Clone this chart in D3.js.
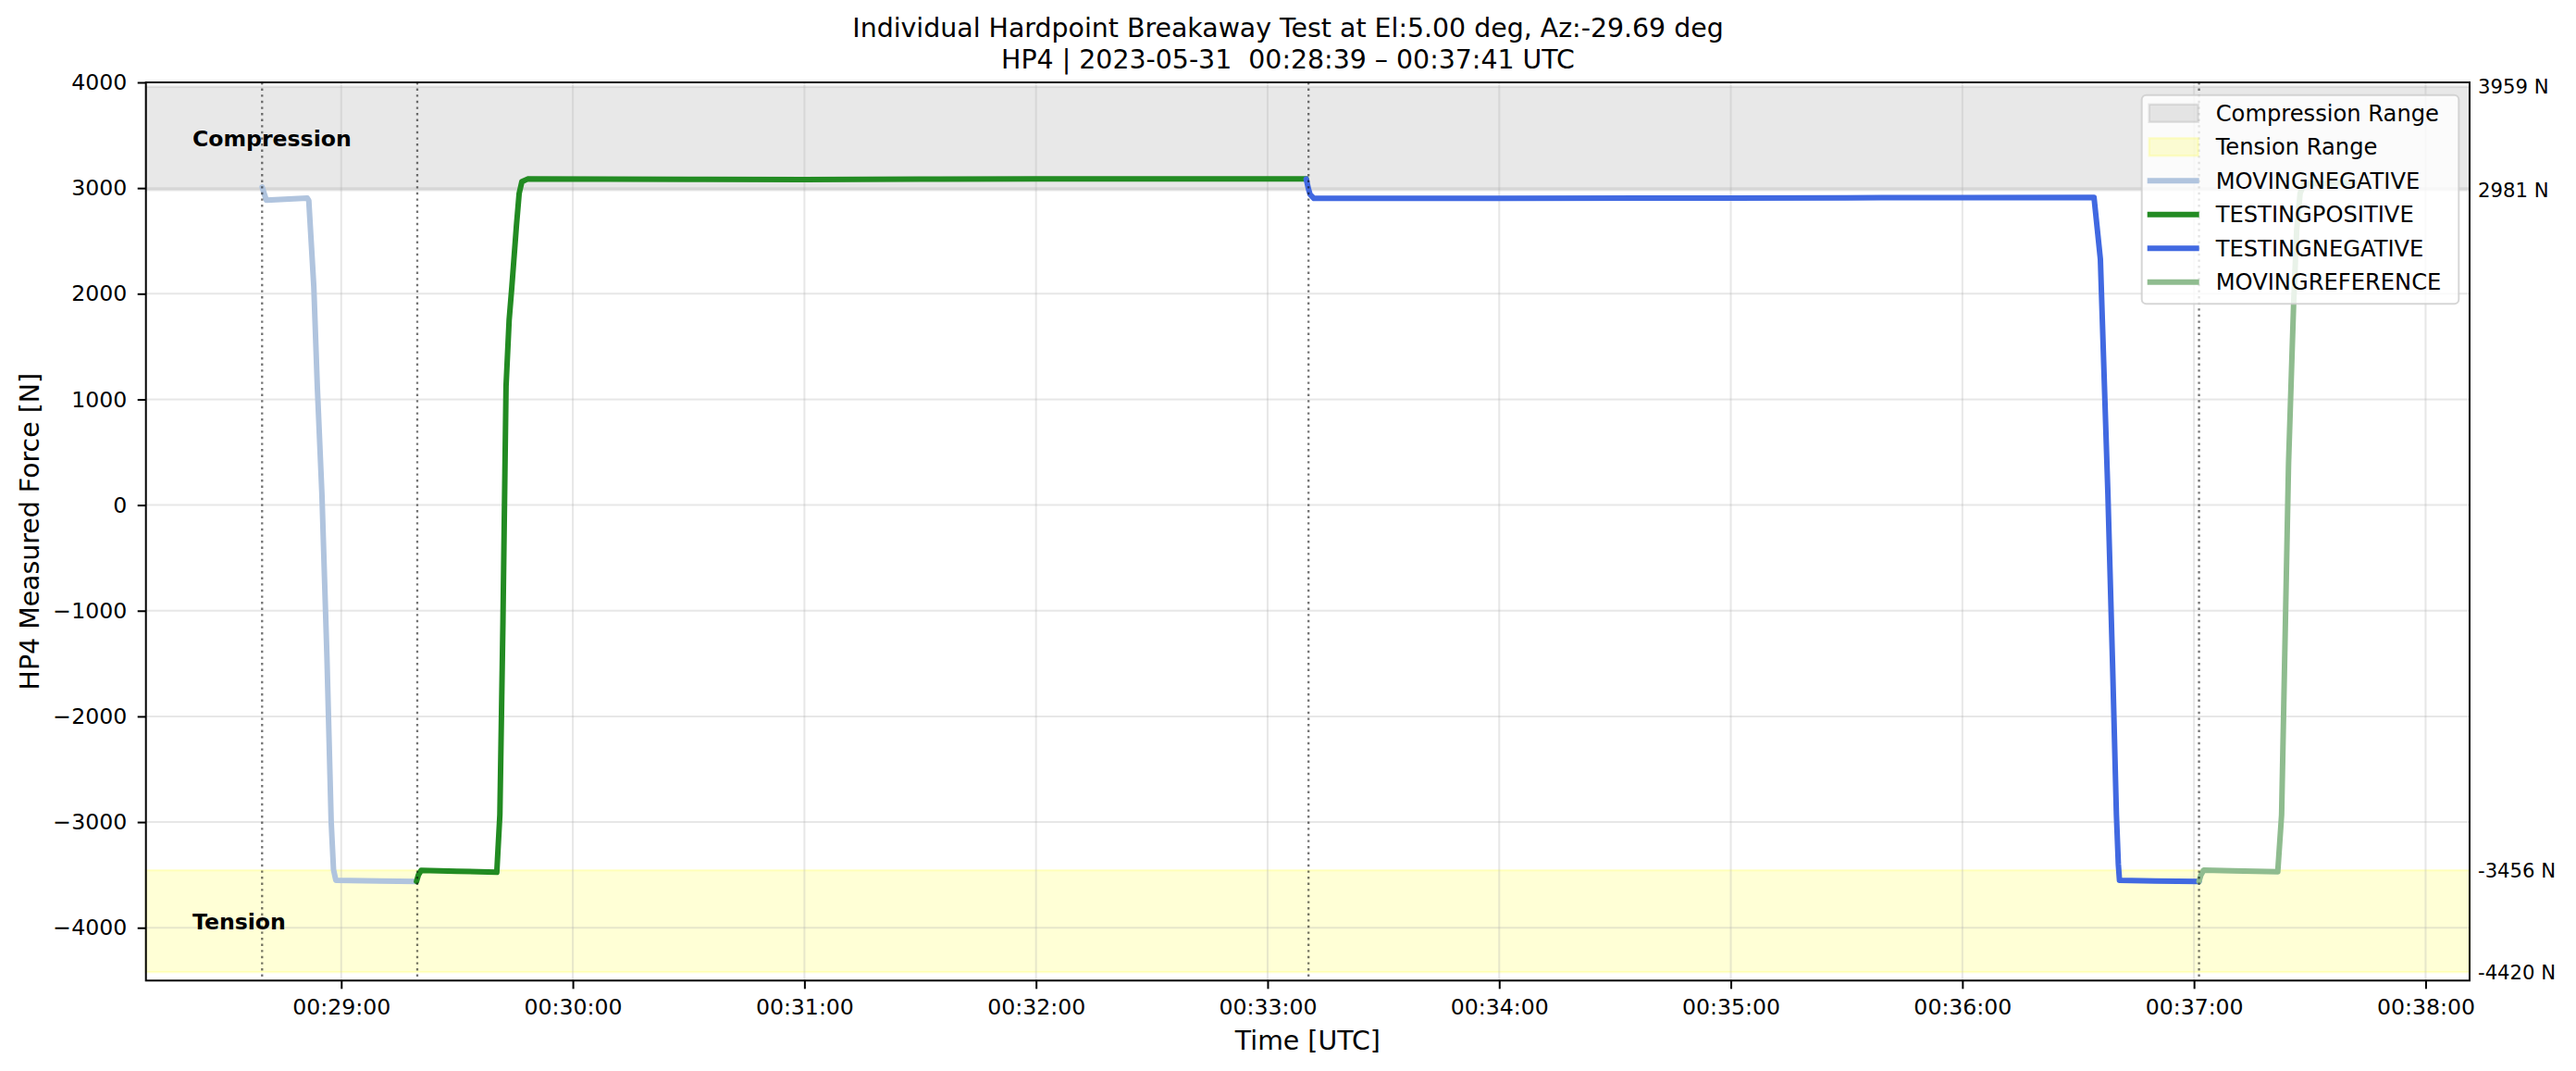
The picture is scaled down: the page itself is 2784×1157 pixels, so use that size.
<!DOCTYPE html>
<html><head><meta charset="utf-8">
<script src="https://cdn.jsdelivr.net/npm/d3@7"></script>
<style>
html,body{margin:0;padding:0;background:#fff;}
svg{display:block;font-family:"DejaVu Sans",sans-serif;}
</style></head><body>
<svg id="chart" width="2784" height="1157"></svg>
<script>
// ---------------- DATA ----------------
const titleLines = ["Individual Hardpoint Breakaway Test at El:5.00 deg, Az:-29.69 deg",
                    "HP4 | 2023-05-31  00:28:39 \u2013 00:37:41 UTC"];
const xLabel = "Time [UTC]";
const yLabel = "HP4 Measured Force [N]";
const xDomainTimes = ["00:28:09.4", "00:38:11.4"];
const yDomainValues = [-4500, 4000];
const xTickTimes = ["00:29:00","00:30:00","00:31:00","00:32:00","00:33:00","00:34:00","00:35:00","00:36:00","00:37:00","00:38:00"];
const yTickValues = [-4000,-3000,-2000,-1000,0,1000,2000,3000,4000];
const compressionRange = [2981, 3959];
const tensionRange = [-4420, -3456];
const rangeLabelValues = [3959, 2981, -3456, -4420];
const regionNames = ["Compression", "Tension"];
const eventTimes = ["00:28:39.5", "00:29:19.7", "00:33:10.6", "00:37:01.3"];

const seriesNames = ["MOVINGNEGATIVE", "TESTINGPOSITIVE", "TESTINGNEGATIVE", "MOVINGREFERENCE"];
const seriesColors = ["#B0C4DE", "#228B22", "#4169E1", "#8FBC8F"];

const movingNegativeTimes = ["00:28:39.5","00:28:40.6","00:28:51.2","00:28:51.6","00:28:52.9","00:28:53.8","00:28:55.0","00:28:56.3","00:28:57.4","00:28:58.0","00:28:58.6","00:29:10.0","00:29:19.5"];
const movingNegativeValues = [3010, 2885, 2905, 2880, 2064, 1125, 100, -1440, -3000, -3450, -3551, -3558, -3562];

const testingPositiveTimes = ["00:29:19.5","00:29:20.0","00:29:20.7","00:29:30.0","00:29:40.3","00:29:41.1","00:29:41.9","00:29:42.7","00:29:43.5","00:29:44.2","00:29:45.4","00:29:46.1","00:29:46.8","00:29:48.3","00:30:30.0","00:31:00.0","00:31:30.0","00:32:00.0","00:32:30.0","00:33:10.0"];
const testingPositiveValues = [-3562, -3500, -3458, -3465, -3475, -2930, -1100, 1125, 1750, 2064, 2648, 2950, 3060, 3086, 3082, 3080, 3084, 3087, 3086, 3086];

const testingNegativeTimes = ["00:33:10.0","00:33:10.6","00:33:11.0","00:33:12.0","00:34:00.0","00:35:00.0","00:35:30.0","00:36:00.0","00:36:34.1","00:36:35.75","00:36:36.8","00:36:37.7","00:36:38.9","00:36:39.9","00:36:40.4","00:36:40.7","00:36:50.0","00:37:01.3"];
const testingNegativeValues = [3086, 2990, 2940, 2902, 2903, 2906, 2908, 2910, 2911, 2327, 1125, 100, -1500, -2930, -3400, -3551, -3558, -3562];

const movingReferenceTimes = ["00:37:01.3","00:37:01.8","00:37:02.5","00:37:10.0","00:37:21.7","00:37:22.7","00:37:24.5","00:37:25.8","00:37:26.6","00:37:27.5","00:37:28.5","00:37:41.5"];
const movingReferenceValues = [-3562, -3500, -3455, -3462, -3470, -2930, 400, 1890, 2600, 2950, 3040, 3050];

const seriesTimes = [movingNegativeTimes, testingPositiveTimes, testingNegativeTimes, movingReferenceTimes];
const seriesValues = [movingNegativeValues, testingPositiveValues, testingNegativeValues, movingReferenceValues];

// ---------------- CHART ----------------
const W = 2784, H = 1157;
const margin = {left: 157.7, top: 89, right: 115, bottom: 97.7};
const pw = W - margin.left - margin.right, ph = H - margin.top - margin.bottom;

const parseT = s => { const p = s.split(":"); return new Date(Date.UTC(2023,4,31,+p[0],+p[1],0) + parseFloat(p[2])*1000); };

const svg = d3.select("#chart");
svg.append("rect").attr("width", W).attr("height", H).attr("fill", "#fff");
const g = svg.append("g").attr("transform", `translate(${margin.left},${margin.top})`);

const x = d3.scaleUtc().domain(xDomainTimes.map(parseT)).range([0, pw]);
const y = d3.scaleLinear().domain(yDomainValues).range([ph, 0]);

const TICK_FS = 23.6, LABEL_FS = 28.4, LW = 6;

// range shading
const regions = [
  {range: compressionRange, color: "#808080", op: 0.18, name: regionNames[0]},
  {range: tensionRange, color: "#ffff00", op: 0.16, name: regionNames[1]}
];
regions.forEach(r => {
  g.append("rect")
    .attr("x", 0).attr("width", pw)
    .attr("y", y(r.range[1])).attr("height", y(r.range[0]) - y(r.range[1]))
    .attr("fill", r.color).attr("fill-opacity", r.op)
    .attr("stroke", r.color).attr("stroke-opacity", r.op).attr("stroke-width", 2.4);
});

// grid
const gridG = g.append("g");
xTickTimes.map(parseT).forEach(t => {
  gridG.append("line").attr("x1", x(t)).attr("x2", x(t)).attr("y1", 0).attr("y2", ph)
    .attr("stroke", "#b0b0b0").attr("stroke-opacity", 0.3).attr("stroke-width", 2);
});
yTickValues.forEach(v => {
  gridG.append("line").attr("x1", 0).attr("x2", pw).attr("y1", y(v)).attr("y2", y(v))
    .attr("stroke", "#b0b0b0").attr("stroke-opacity", 0.3).attr("stroke-width", 2);
});

// region labels
regions.forEach(r => {
  g.append("text").attr("x", 0.02 * pw).attr("y", y((r.range[0] + r.range[1]) / 2))
    .attr("dy", "0.36em")
    .attr("font-size", TICK_FS).attr("font-weight", "bold").attr("fill", "#000")
    .text(r.name);
});

// lines
const clipId = "plotclip";
svg.append("defs").append("clipPath").attr("id", clipId)
  .append("rect").attr("width", pw).attr("height", ph);
const lineGen = d3.line().x(d => x(d[0])).y(d => y(d[1]));
const linesG = g.append("g").attr("clip-path", `url(#${clipId})`);
seriesNames.forEach((name, i) => {
  const pts = seriesTimes[i].map((t, j) => [parseT(t), seriesValues[i][j]]);
  linesG.append("path").datum(pts).attr("d", lineGen)
    .attr("fill", "none").attr("stroke", seriesColors[i]).attr("stroke-width", LW)
    .attr("stroke-linejoin", "round").attr("stroke-linecap", "round");
});

// event dotted lines
eventTimes.map(parseT).forEach(t => {
  g.append("line").attr("x1", x(t)).attr("x2", x(t)).attr("y1", 0).attr("y2", ph)
    .attr("stroke", "#000").attr("stroke-opacity", 0.55).attr("stroke-width", 2.3)
    .attr("stroke-dasharray", "2.4,4.2");
});

// axes
const xAxis = d3.axisBottom(x).tickValues(xTickTimes.map(parseT))
  .tickFormat(d3.utcFormat("%H:%M:%S")).tickSize(9).tickPadding(10.7);
const yAxis = d3.axisLeft(y).tickValues(yTickValues).tickFormat(d3.format("d"))
  .tickSize(9).tickPadding(11.5);
const xg = g.append("g").attr("transform", `translate(0,${ph})`).call(xAxis);
const yg = g.append("g").call(yAxis);
[xg, yg].forEach(a => {
  a.select(".domain").remove();
  a.selectAll(".tick line").attr("stroke", "#000").attr("stroke-width", 2);
  a.selectAll(".tick text").attr("font-size", TICK_FS).attr("fill", "#000")
    .attr("font-family", "DejaVu Sans");
});

// spines
g.append("rect").attr("x", 0).attr("y", 0).attr("width", pw).attr("height", ph)
  .attr("fill", "none").attr("stroke", "#000").attr("stroke-width", 2);

// right-side range labels
rangeLabelValues.forEach(v => {
  g.append("text").attr("x", pw + 9).attr("y", y(v)).attr("dy", "0.36em")
    .attr("font-size", 21.2).attr("fill", "#000").text(`${v} N`);
});

// axis labels
svg.append("text").attr("x", margin.left + pw / 2).attr("y", 1134)
  .attr("text-anchor", "middle").attr("font-size", LABEL_FS).text(xLabel);
svg.append("text").attr("transform", `translate(42,${margin.top + ph / 2}) rotate(-90)`)
  .attr("text-anchor", "middle").attr("font-size", LABEL_FS).text(yLabel);

// title
titleLines.forEach((t, i) => {
  svg.append("text").attr("x", W / 2).attr("y", 40 + i * 34)
    .attr("text-anchor", "middle").attr("font-size", LABEL_FS)
    .style("white-space", "pre").attr("xml:space", "preserve").text(t);
});

// legend
const lg = g.append("g").attr("transform", `translate(${pw - 11.7 - 342.6},13.7)`);
lg.append("rect").attr("width", 342.6).attr("height", 225.6).attr("rx", 5).attr("ry", 5)
  .attr("fill", "#fff").attr("fill-opacity", 0.8)
  .attr("stroke", "#cccccc").attr("stroke-opacity", 0.8).attr("stroke-width", 2);
const legendItems = [
  {type: "patch", label: "Compression Range", fill: "#808080", op: 0.18},
  {type: "patch", label: "Tension Range", fill: "#ffff00", op: 0.16}
].concat(seriesNames.map((n, i) => ({type: "line", label: n, color: seriesColors[i]})));
legendItems.forEach((it, i) => {
  const cy = 19.6 + i * 36.5;
  if (it.type === "patch") {
    lg.append("rect").attr("x", 8).attr("y", cy - 9.5).attr("width", 53).attr("height", 19)
      .attr("fill", it.fill).attr("fill-opacity", it.op)
      .attr("stroke", it.fill).attr("stroke-opacity", it.op).attr("stroke-width", 2.4);
  } else {
    lg.append("line").attr("x1", 6).attr("x2", 62).attr("y1", cy).attr("y2", cy)
      .attr("stroke", it.color).attr("stroke-width", LW);
  }
  lg.append("text").attr("x", 80).attr("y", cy).attr("dy", "0.36em")
    .attr("font-size", TICK_FS + 0.6).attr("fill", "#000").text(it.label);
});
</script>
</body></html>
